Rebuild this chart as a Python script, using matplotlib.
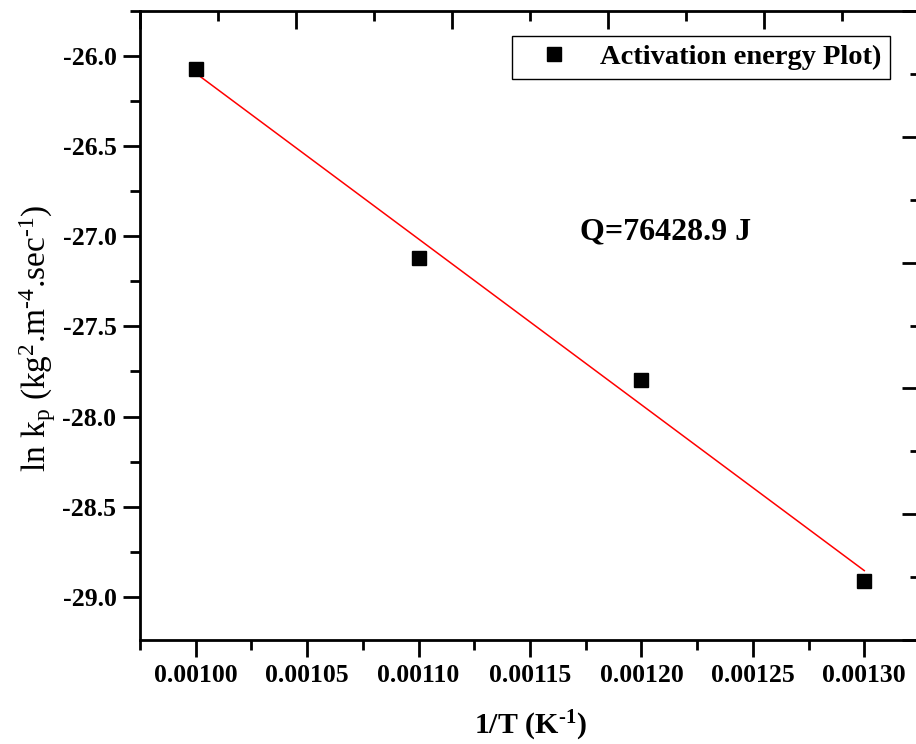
import numpy as np
import matplotlib
matplotlib.use('Agg')
from matplotlib import pyplot as plt
from matplotlib.ticker import MultipleLocator, FormatStrFormatter

# data
inv_T = [0.00100, 0.00110, 0.00120, 0.00130]
ln_kp = [-26.07, -27.12, -27.80, -28.91]
legend_label = 'Activation energy Plot)'
q_text = 'Q=76428.9 J'

plt.rcParams['font.family'] = 'Liberation Serif'
plt.rcParams['font.weight'] = 'bold'
plt.rcParams['mathtext.default'] = 'regular'

fig = plt.figure(figsize=(9.16, 7.44), dpi=100)
W, H = 916, 744
rect = [140 / W, (H - 640) / H, 780 / W, 629 / H]
ax = fig.add_axes(rect)

# linear fit
slope, icpt = np.polyfit(inv_T, ln_kp, 1)
xfit = np.array([inv_T[0], inv_T[-1]])
ax.plot(xfit, slope * xfit + icpt, color='red', lw=1.1, zorder=2)
ax.plot(inv_T, ln_kp, 's', color='black', ms=10, label=legend_label, zorder=3)

ax.set_xlim(0.000975, 0.001325)
ax.set_ylim(-29.24, -25.75)
ax.xaxis.set_major_locator(MultipleLocator(0.00005))
ax.xaxis.set_minor_locator(MultipleLocator(0.000025))
ax.yaxis.set_major_locator(MultipleLocator(0.5))
ax.yaxis.set_minor_locator(MultipleLocator(0.25))
ax.xaxis.set_major_formatter(FormatStrFormatter('%.5f'))
ax.yaxis.set_major_formatter(FormatStrFormatter('%.1f'))
ax.tick_params(which='major', direction='out', length=12, width=2, labelsize=18.5, pad=5)
ax.tick_params(which='minor', direction='out', length=7, width=2)
ax.tick_params(axis='y', which='major', pad=5)
for s in ax.spines.values():
    s.set_linewidth(2)

hy = '\u2010'
ax.set_xlabel('1/T (K$^{' + hy + '1}$)', fontsize=21.5, fontweight='bold')
ax.xaxis.set_label_coords(0.5, -0.11)
ax.set_ylabel('ln k$_{p}$ (kg$^{2}$.m$^{' + hy + '4}$.sec$^{' + hy + '1}$)',
              fontsize=24, fontweight='normal')
ax.yaxis.set_label_coords(-0.105, 0.48)

ax.text(0.564, 0.648, q_text, transform=ax.transAxes, fontsize=23,
        fontweight='bold', ha='left', va='center')

leg = ax.legend(loc='upper right', bbox_to_anchor=(0.9615, 0.9603),
                fancybox=False, edgecolor='black', framealpha=1,
                fontsize=20.5, handlelength=2.4, handletextpad=0.4,
                borderpad=0.3, borderaxespad=0)
leg.get_frame().set_linewidth(1)

# top / right frame ticks (separate layer scale)
ax2 = fig.add_axes(rect, frameon=False)
ax2.set_xlim(0, 5)
ax2.set_ylim(0, 5)
ax2.xaxis.set_major_locator(MultipleLocator(1))
ax2.xaxis.set_minor_locator(MultipleLocator(0.5))
ax2.yaxis.set_major_locator(MultipleLocator(1))
ax2.yaxis.set_minor_locator(MultipleLocator(0.5))
ax2.tick_params(which='both', direction='in', width=2, bottom=False, left=False,
                top=True, right=True, labelbottom=False, labelleft=False)
ax2.tick_params(which='major', length=13)
ax2.tick_params(which='minor', length=7)
ax2.patch.set_visible(False)

fig.savefig('out.png', dpi=100)
